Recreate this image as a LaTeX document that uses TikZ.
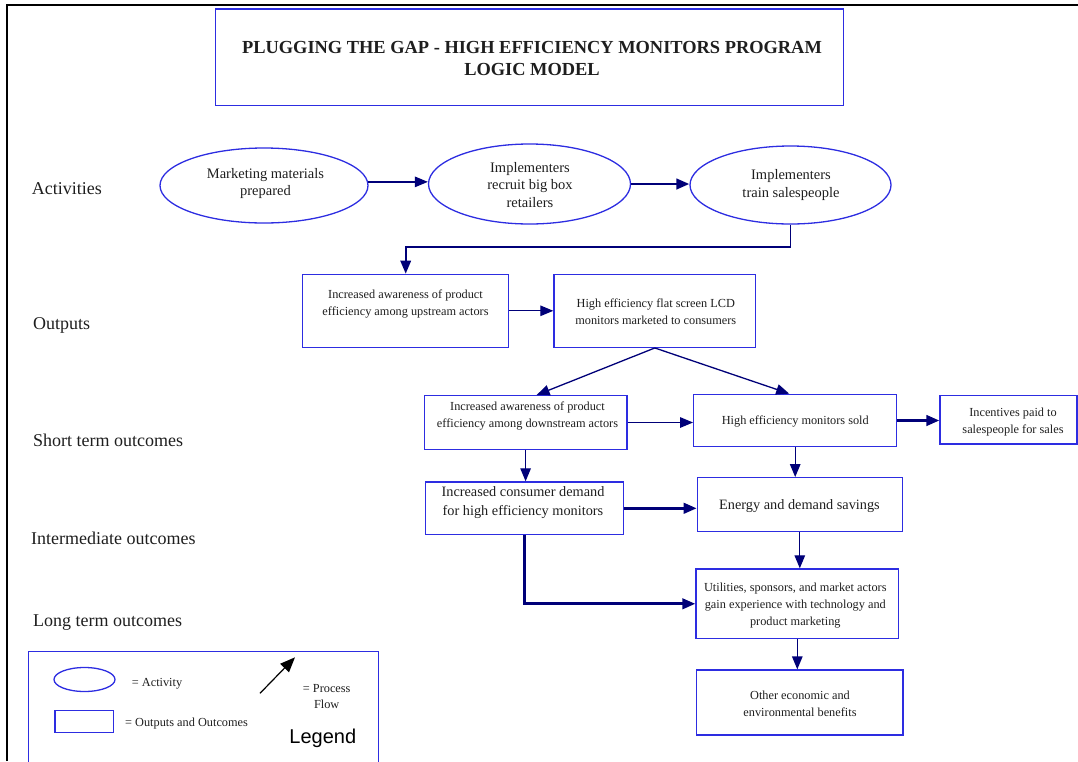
\documentclass[tikz,border=0pt]{standalone}
\usepackage{fontspec}
\setmainfont{Liberation Serif}
\newfontfamily\legendfont{Liberation Sans}
\usetikzlibrary{arrows.meta,shapes.geometric}

\definecolor{edgeblue}{RGB}{45,45,225}
\definecolor{flownavy}{RGB}{0,0,120}
\definecolor{inkgray}{RGB}{30,30,30}

\tikzset{
  box/.style={draw=edgeblue, line width=1.3pt, rectangle, inner sep=0pt},
  act/.style={draw=edgeblue, line width=1.3pt, ellipse, inner sep=0pt},
  boxtext/.style={inner sep=0pt, align=center, text=inkgray, font=\fontsize{12.3}{16.6}\selectfont},
  acttext/.style={inner sep=0pt, align=center, text=inkgray, font=\fontsize{14.5}{17.5}\selectfont},
  bigtext/.style={inner sep=0pt, align=center, text=inkgray, font=\fontsize{14.3}{18.7}\selectfont},
  rowlabel/.style={anchor=west, inner sep=0pt, text=inkgray, font=\fontsize{18}{20}\selectfont},
  flow/.style={draw=flownavy, line width=1.3pt, -{Triangle[length=13pt,width=10.5pt]}},
  midflow/.style={flow, line width=1.9pt},
  boldflow/.style={flow, line width=2.7pt},
}

\begin{document}
\begin{tikzpicture}[x=1pt,y=-1pt]
\useasboundingbox (0,0) rectangle (1078,761);

% page frame
\draw[black, line width=2pt] (6.5,761) -- (6.5,5) -- (1078,5);

% title
\node[box, minimum width=628pt, minimum height=96.5pt] (title) at (529.5,57.25) {};
\node[inner sep=0pt, align=center, text=inkgray, font=\bfseries\fontsize{18.4}{22.5}\selectfont] (titletext) at (532,58.5)
  {PLUGGING THE GAP - HIGH EFFICIENCY MONITORS PROGRAM\\LOGIC MODEL};

% row labels
\node[rowlabel] (lblact) at (31.7,188.3) {Activities};
\node[rowlabel] (lblout) at (33,325) {Outputs};
\node[rowlabel] (lblshort) at (33,440) {Short term outcomes};
\node[rowlabel] (lblinter) at (31,538) {Intermediate outcomes};
\node[rowlabel] (lbllong) at (33,623) {Long term outcomes};

% activities
\node[act, minimum width=208pt, minimum height=75pt] (e1) at (264,185.5) {};
\node[acttext] (e1t) at (265.5,183.5) {Marketing materials\\prepared};
\node[act, minimum width=202pt, minimum height=80pt] (e2) at (529.5,184) {};
\node[acttext] (e2t) at (530,185) {Implementers\\recruit big box\\retailers};
\node[act, minimum width=201pt, minimum height=78pt] (e3) at (790.5,185) {};
\node[acttext] (e3t) at (791,185) {Implementers\\train salespeople};

% outputs
\node[box, minimum width=206pt, minimum height=73pt] (o1) at (405.7,310.8) {};
\node[boxtext] (o1t) at (405.5,303.7) {Increased awareness of product\\efficiency among upstream actors};
\node[box, minimum width=201.7pt, minimum height=73pt] (o2) at (654.8,310.8) {};
\node[boxtext] (o2t) at (655.8,312) {High efficiency flat screen LCD\\monitors marketed to consumers};

% short term outcomes
\node[box, minimum width=202.7pt, minimum height=53.6pt] (s1) at (525.6,422.5) {};
\node[boxtext] (s1t) at (527.5,415.8) {Increased awareness of product\\efficiency among downstream actors};
\node[box, minimum width=203pt, minimum height=52.4pt] (s2) at (795.2,420.5) {};
\node[boxtext] (s2t) at (795.3,421.7) {High efficiency monitors sold};
\node[box, minimum width=137pt, minimum height=48.3pt] (s3) at (1008.5,419.8) {};
\node[boxtext] (s3t) at (1013,422) {Incentives paid to\\salespeople for sales};

% intermediate outcomes
\node[box, minimum width=198pt, minimum height=52.7pt] (i1) at (524.7,508.3) {};
\node[bigtext] (i1t) at (523,502.3) {Increased consumer demand\\for high efficiency monitors};
\node[box, minimum width=205pt, minimum height=54pt] (i2) at (799.8,504.7) {};
\node[bigtext] (i2t) at (799.5,505.7) {Energy and demand savings};

% long term outcomes
\node[box, minimum width=202.7pt, minimum height=69.7pt] (l1) at (797.3,603.8) {};
\node[boxtext] (l1t) at (795.3,605.5) {Utilities, sponsors, and market actors\\gain experience with technology and\\product marketing};
\node[box, minimum width=206.3pt, minimum height=65pt] (l2) at (799.8,702.5) {};
\node[boxtext] (l2t) at (800,704) {Other economic and\\environmental benefits};

% process flow
\coordinate (bend1) at (0,247);
\draw[flow] (e1.2) -- (e1.2 -| e2.west);
\draw[boldflow] (e2.east) -- (e2.east -| e3.west);
\draw[midflow] (e3.south) -- (e3.south |- bend1) -| (o1.north);
\draw[flow] (o1.east) -- (o1.east -| o2.west);
\draw[flow] (o2.south) -- ([xshift=11pt]s1.north);
\draw[flow] (o2.south) -- ([xshift=-6pt]s2.north);
\draw[flow] (s1.east) -- (s1.east -| s2.west);
\draw[boldflow] (s2.east) -- (s2.east -| s3.west);
\draw[flow] (s1.south) -- (s1.south |- i1.north);
\draw[flow] (s2.south) -- (s2.south |- i2.north);
\draw[boldflow] (i1.east) -- (i1.east -| i2.west);
\draw[flow] (i2.south) -- (i2.south |- l1.north);
\draw[boldflow] (i1.south) |- (l1.west);
\draw[flow] (l1.south) -- (l1.south |- l2.north);

% legend
\draw[draw=edgeblue, line width=1.3pt] (28.3,765) -- (28.3,651.7) -- (378.3,651.7) -- (378.3,765);
\node[act, minimum width=61pt, minimum height=24pt] (lge) at (84.5,679.5) {};
\node[boxtext, anchor=west] (lget) at (131.7,683.3) {= Activity};
\node[box, minimum width=58.3pt, minimum height=21.6pt] (lgr) at (84.2,721.5) {};
\node[boxtext, anchor=west] (lgrt) at (125,723.3) {= Outputs and Outcomes};
\coordinate (lgfrom) at (260,693.3);
\coordinate (lgto) at (295,657.3);
\draw[black, line width=1.2pt, -{Triangle[length=15pt,width=12pt]}] (lgfrom) -- (lgto);
\node[boxtext] (lgft) at (326.7,696.5) {= Process\\Flow};
\node[inner sep=0pt, text=black, font=\legendfont\fontsize{20}{22}\selectfont] (lgtitle) at (322.8,738.3) {Legend};
\end{tikzpicture}
\end{document}
